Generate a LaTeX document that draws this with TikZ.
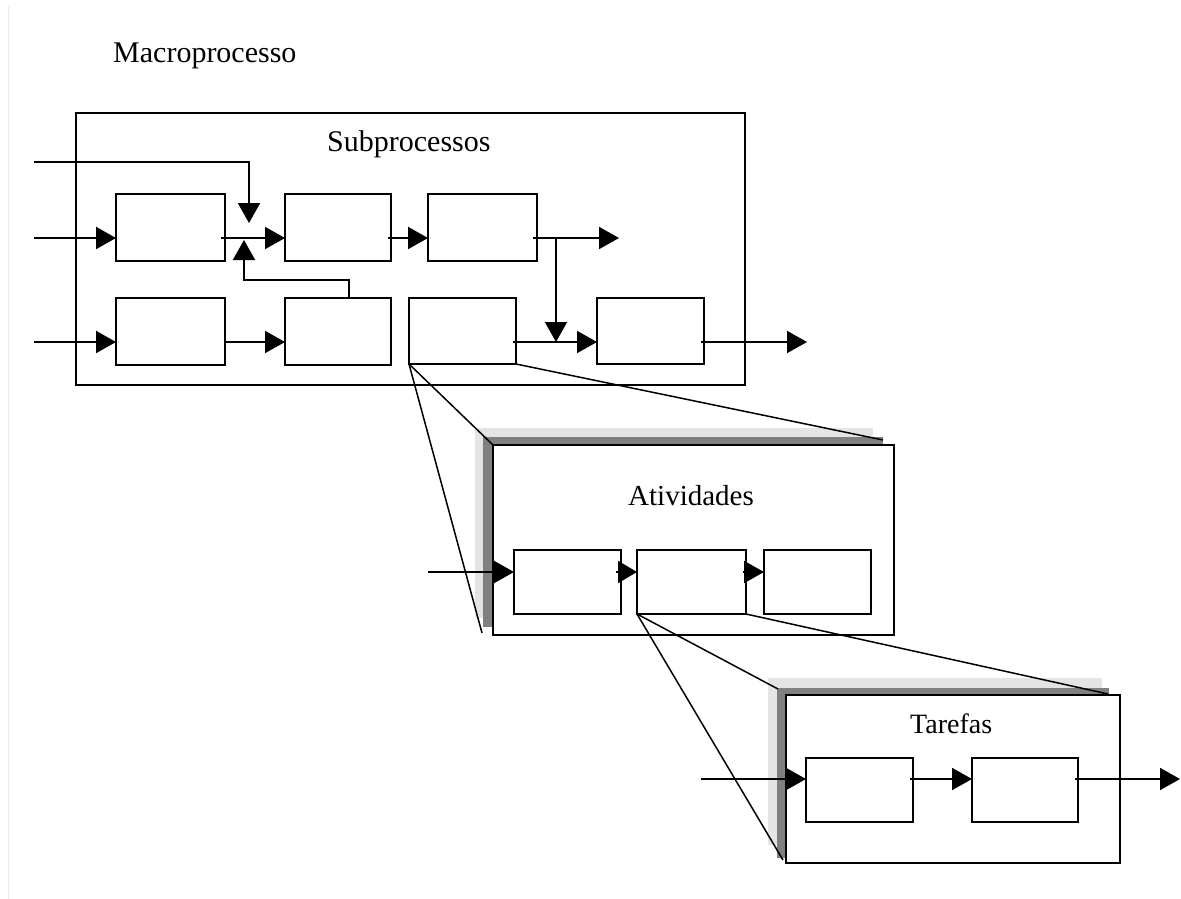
\documentclass[tikz,border=0pt]{standalone}
\usepackage{fontspec}
\setmainfont{Liberation Serif}
\usetikzlibrary{arrows.meta}
\definecolor{shadedark}{HTML}{808080}
\definecolor{shadelight}{HTML}{E4E4E4}
\tikzset{
  pbox/.style={draw, fill=white, rectangle, inner sep=0pt, outer sep=0pt, line width=2pt},
  arr/.style={line width=2pt, -{Triangle[length=20pt,width=22pt]}},
  zoomline/.style={line width=1.5pt},
  title/.style={anchor=base west, inner sep=0pt, font=\fontsize{30}{36}\selectfont},
}
\begin{document}
\begin{tikzpicture}[x=1pt, y=-1pt]
  \useasboundingbox (0,0) rectangle (1181,899);
  % faint page edge
  \draw[black!8, line width=1pt] (8,6) -- (8,899);

  % ---------- Macroprocesso ----------
  \node[title] (lblmacro) at (113,63) {Macroprocesso};
  \node[pbox, minimum width=669pt, minimum height=272pt] (macro) at (410.5,249) {};
  \node[title] (lblsub) at (327,151) {Subprocessos};

  \node[pbox, minimum width=109pt, minimum height=67pt] (A1) at (170.5,227.5) {};
  \node[pbox, minimum width=106pt, minimum height=67pt] (A2) at (338,227.5) {};
  \node[pbox, minimum width=109pt, minimum height=67pt] (A3) at (482.5,227.5) {};
  \node[pbox, minimum width=109pt, minimum height=67pt] (B1) at (170.5,331.5) {};
  \node[pbox, minimum width=106pt, minimum height=67pt] (B2) at (338,331.5) {};
  \node[pbox, minimum width=107pt, minimum height=66pt] (B3) at (462.5,331) {};
  \node[pbox, minimum width=107pt, minimum height=66pt] (B4) at (650.5,331) {};

  \coordinate (r1) at (0,238);
  \coordinate (r2) at (0,342);
  \coordinate (in0) at (34,162);
  \coordinate (in1) at (34,238);
  \coordinate (in2) at (34,342);
  \coordinate (mergetop) at (249,223);
  \coordinate (mergebot) at (244,240);
  \coordinate (out1) at (619,238);
  \coordinate (branch) at (556,238);
  \coordinate (out2) at (807,342);

  \draw[arr] (in0) -| (mergetop);
  \draw[arr] (in1) -- (A1.west |- r1);
  \draw[arr] ([xshift=-4pt]A1.east |- r1) -- (A2.west |- r1);
  \draw[arr] ([xshift=11pt]B2.north) -- ++(0,-18) -| (mergebot);
  \draw[arr] ([xshift=-3pt]A2.east |- r1) -- (A3.west |- r1);
  \draw[arr] ([xshift=-4pt]A3.east |- r1) -- (out1);
  \draw[arr] (branch) -- (branch |- r2);
  \draw[arr] (in2) -- (B1.west |- r2);
  \draw[arr] (B1.east |- r2) -- (B2.west |- r2);
  \draw[arr] ([xshift=-3pt]B3.east |- r2) -- (B4.west |- r2);
  \draw[arr] ([xshift=-3pt]B4.east |- r2) -- (out2);

  % ---------- Atividades ----------
  \fill[shadelight] (475,428) rectangle (873,618);
  \fill[shadedark] (483,437) rectangle (883,627);
  \node[pbox, minimum width=401pt, minimum height=190pt] (ativ) at (693.5,540) {};
  \node[title, font=\fontsize{29}{35}\selectfont] (lblativ) at (628,505) {Atividades};

  \node[pbox, minimum width=107pt, minimum height=64pt] (C1) at (567.5,582) {};
  \node[pbox, minimum width=109pt, minimum height=64pt] (C2) at (691.5,582) {};
  \node[pbox, minimum width=107pt, minimum height=64pt] (C3) at (817.5,582) {};

  \coordinate (r3) at (0,572);
  \coordinate (in3) at (428,572);
  \draw[arr] (in3) -- (C1.west |- r3);
  \draw[line width=2pt, -{Triangle[length=19pt,width=22pt]}] ([xshift=-5pt]C1.east |- r3) -- (C2.west |- r3);
  \draw[arr] ([xshift=-3pt]C2.east |- r3) -- (C3.west |- r3);

  % zoom from subprocess to activities
  \coordinate (ativbl) at (482,633);
  \coordinate (ativtr) at (883,440);
  \draw[zoomline] (B3.south west) -- (ativbl);
  \draw[zoomline] (B3.south west) -- (ativ.north west);
  \draw[zoomline] (B3.south east) -- (ativtr);

  % ---------- Tarefas ----------
  \fill[shadelight] (768,678) rectangle (1102,845);
  \fill[shadedark] (777,688) rectangle (1109,858);
  \node[pbox, minimum width=334pt, minimum height=168pt] (tar) at (953,779) {};
  \node[title, font=\fontsize{28}{34}\selectfont] (lbltar) at (910,733) {Tarefas};

  \node[pbox, minimum width=107pt, minimum height=64pt] (D1) at (859.5,790) {};
  \node[pbox, minimum width=106pt, minimum height=64pt] (D2) at (1025,790) {};

  \coordinate (r4) at (0,779);
  \coordinate (in4) at (701,779);
  \coordinate (out4) at (1180,779);
  \draw[arr] (in4) -- (D1.west |- r4);
  \draw[arr] ([xshift=-3pt]D1.east |- r4) -- (D2.west |- r4);
  \draw[arr] ([xshift=-3pt]D2.east |- r4) -- (out4);

  % zoom from activity to tasks
  \coordinate (tartl) at (778,689);
  \coordinate (tarbl) at (783,860);
  \coordinate (tartr) at (1108,694);
  \draw[zoomline] (C2.south west) -- (tartl);
  \draw[zoomline] (C2.south west) -- (tarbl);
  \draw[zoomline] (C2.south east) -- (tartr);
\end{tikzpicture}
\end{document}
